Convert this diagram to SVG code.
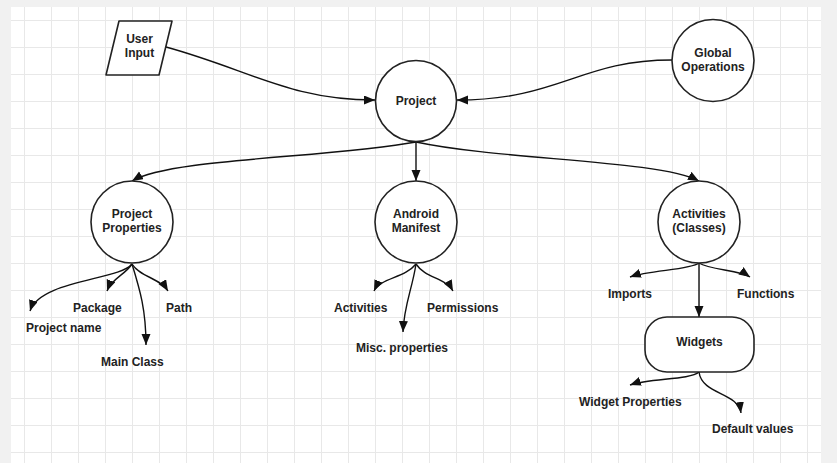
<svg xmlns="http://www.w3.org/2000/svg" width="837" height="463" viewBox="0 0 837 463">
  <defs>
    <pattern id="grid" patternUnits="userSpaceOnUse" x="24" y="20" width="27" height="27">
      <path d="M0.5,0 V27 M0,0.5 H27" fill="none" stroke="#e8e8e8" stroke-width="1"/>
    </pattern>
    <marker id="arr" markerUnits="userSpaceOnUse" markerWidth="12" markerHeight="10" refX="11" refY="4.5" orient="auto">
      <path d="M0,0 L11,4.5 L0,9 Z" fill="#111"/>
    </marker>
    <style>
      .node { fill: #fff; stroke: #222; stroke-width: 1.6; }
      .lbl { font-family: "Liberation Sans", Arial, sans-serif; font-size: 12px; font-weight: bold; fill: #222; text-anchor: middle; }
      .txt { font-family: "Liberation Sans", Arial, sans-serif; font-size: 12px; font-weight: bold; fill: #222; }
      .edge { fill: none; stroke: #111; stroke-width: 1.4; marker-end: url(#arr); }
    </style>
  </defs>

  <rect x="0" y="0" width="837" height="463" fill="#f1f1f1"/>
  <rect x="11" y="7" width="810" height="456" fill="#fff"/>
  <rect x="11" y="7" width="810" height="456" fill="url(#grid)"/>

  <g id="connectors">
    <path class="edge" d="M166,47 C250,70 290,100 375,100"/>
    <path class="edge" d="M672,60 C580,60 560,100 457,100"/>
    <path class="edge" d="M416,142 C330,158 170,158 132,181"/>
    <path class="edge" d="M416,142 L416,181"/>
    <path class="edge" d="M416,142 C500,160 660,160 699,181"/>

    <path class="edge" d="M132,264 C120,280 40,280 30,311"/>
    <path class="edge" d="M132,264 C125,275 112,278 107,291"/>
    <path class="edge" d="M132,264 C140,290 146,310 146,345"/>
    <path class="edge" d="M132,264 C140,277 160,278 168,291"/>

    <path class="edge" d="M416,264 C405,278 380,278 374,291"/>
    <path class="edge" d="M416,264 C412,290 404,305 403,332"/>
    <path class="edge" d="M416,264 C425,278 446,278 453,291"/>

    <path class="edge" d="M699,263 C690,270 650,270 630,277"/>
    <path class="edge" d="M699,263 C710,270 740,270 750,277"/>
    <path class="edge" d="M699,263 L699,317"/>

    <path class="edge" d="M699,372 C690,380 650,378 630,385"/>
    <path class="edge" d="M699,372 C702,395 738,392 741,413"/>
  </g>

  <g id="user-input">
    <path class="node" stroke-linejoin="round" d="M119,21 L172,21 L159,75 L106,75 Z"/>
    <text class="lbl" x="139.5" y="43">User</text>
    <text class="lbl" x="139.5" y="57">Input</text>
  </g>

  <g id="project">
    <circle class="node" cx="416" cy="101" r="40.5"/>
    <text class="lbl" x="416" y="104.5">Project</text>
  </g>

  <g id="global-operations">
    <circle class="node" cx="713" cy="60.5" r="41"/>
    <text class="lbl" x="713" y="56.5">Global</text>
    <text class="lbl" x="713" y="70.5">Operations</text>
  </g>

  <g id="project-properties">
    <circle class="node" cx="132" cy="222" r="41"/>
    <text class="lbl" x="132" y="218">Project</text>
    <text class="lbl" x="132" y="232">Properties</text>
  </g>

  <g id="android-manifest">
    <circle class="node" cx="416" cy="222" r="41"/>
    <text class="lbl" x="416" y="218">Android</text>
    <text class="lbl" x="416" y="232">Manifest</text>
  </g>

  <g id="activities-classes">
    <circle class="node" cx="699" cy="222" r="41"/>
    <text class="lbl" x="699" y="218">Activities</text>
    <text class="lbl" x="699" y="232">(Classes)</text>
  </g>

  <g id="widgets">
    <rect class="node" x="645" y="317" width="109" height="55" rx="22" ry="22"/>
    <text class="lbl" x="699.5" y="346">Widgets</text>
  </g>

  <g id="leaf-project-name"><text class="txt" x="26" y="332">Project name</text></g>
  <g id="leaf-package"><text class="txt" x="73" y="312">Package</text></g>
  <g id="leaf-main-class"><text class="txt" x="101" y="366">Main Class</text></g>
  <g id="leaf-path"><text class="txt" x="166" y="312">Path</text></g>

  <g id="leaf-activities"><text class="txt" x="334" y="312">Activities</text></g>
  <g id="leaf-misc"><text class="txt" x="356" y="352">Misc. properties</text></g>
  <g id="leaf-permissions"><text class="txt" x="427" y="312">Permissions</text></g>

  <g id="leaf-imports"><text class="txt" x="608" y="298">Imports</text></g>
  <g id="leaf-functions"><text class="txt" x="737" y="298">Functions</text></g>

  <g id="leaf-widget-properties"><text class="txt" x="579" y="406">Widget Properties</text></g>
  <g id="leaf-default-values"><text class="txt" x="712" y="433">Default values</text></g>
</svg>
